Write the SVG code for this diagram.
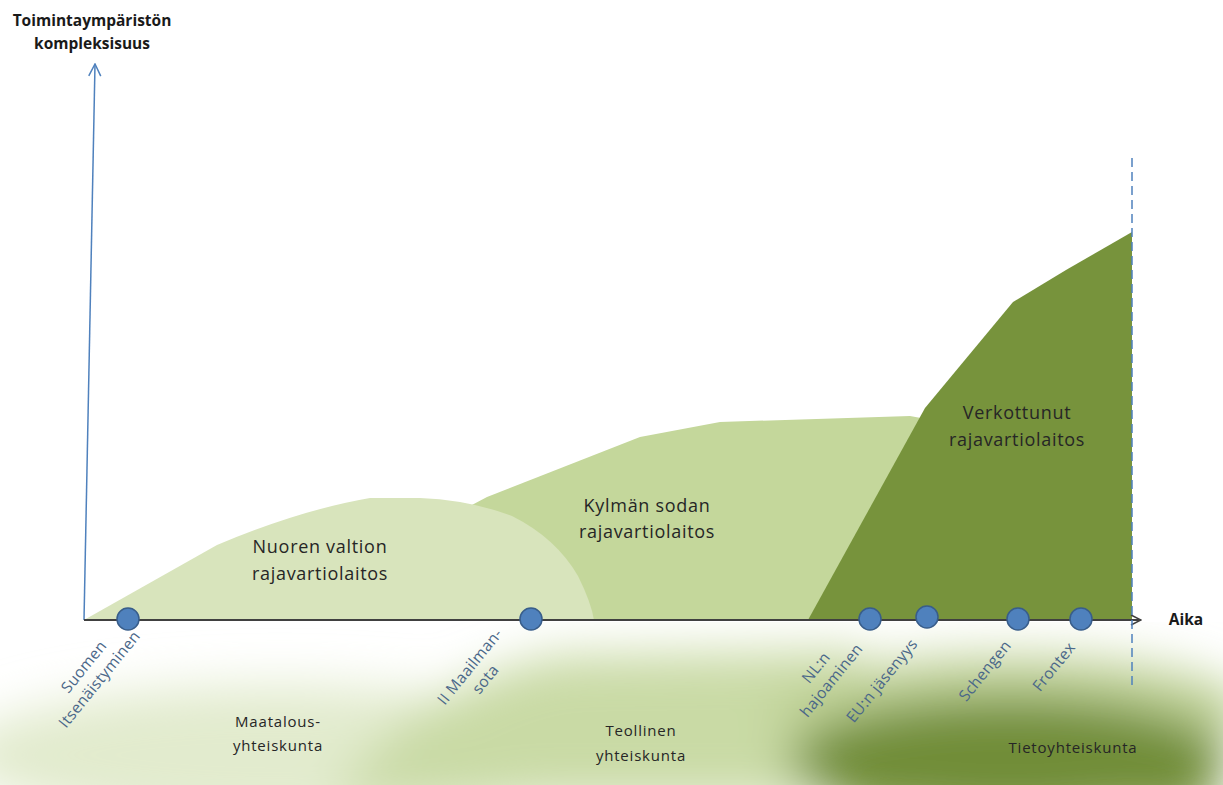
<svg xmlns="http://www.w3.org/2000/svg" width="1223" height="785" viewBox="0 0 1223 785">
  <style>
    .area-label { font-family: "Open Sans", "Liberation Sans", sans-serif; font-size: 18px; letter-spacing: 0.7px; fill: #262626; text-anchor: middle; }
    .era-label { font-family: "Open Sans", "Liberation Sans", sans-serif; font-size: 15px; letter-spacing: 0.8px; fill: #262626; text-anchor: middle; }
    .event-label { font-family: "Open Sans", "Liberation Sans", sans-serif; font-size: 15.5px; letter-spacing: 0.3px; fill: #4a6789; text-anchor: middle; }
    .axis-label { font-family: "Open Sans", "Liberation Sans", sans-serif; font-size: 15.5px; font-weight: bold; fill: #1a1a1a; text-anchor: middle; }
    .dot { fill: #4f81bd; stroke: #385d8a; stroke-width: 1.5; }
  </style>
  <defs>
    <filter id="blur" filterUnits="userSpaceOnUse" x="-200" y="400" width="1700" height="600">
      <feGaussianBlur stdDeviation="24"/>
    </filter>
    <clipPath id="below">
      <rect x="0" y="622" width="1223" height="163"/>
    </clipPath>
    <marker id="openArrowBlue" viewBox="0 0 14 14" refX="13" refY="7" markerWidth="14" markerHeight="14" markerUnits="userSpaceOnUse" orient="auto">
      <path d="M1,1 L13,7 L1,13" fill="none" stroke="#4f81bd" stroke-width="1.5"/>
    </marker>
    <marker id="openArrowDark" viewBox="0 0 12 12" refX="11" refY="6" markerWidth="12" markerHeight="12" markerUnits="userSpaceOnUse" orient="auto">
      <path d="M1,1 L11,6 L1,11" fill="none" stroke="#404040" stroke-width="1.5"/>
    </marker>
  </defs>

  <rect width="1223" height="785" fill="#ffffff"/>

  <!-- soft background band of societies -->
  <g id="background-band" clip-path="url(#below)">
    <g filter="url(#blur)">
      <ellipse cx="280" cy="755" rx="320" ry="70" fill="#e2ebce"/>
      <path d="M330,800 Q420,680 560,655 L860,650 L900,800 Z" fill="#c9daa5"/>
      <ellipse cx="1010" cy="710" rx="240" ry="55" fill="#c0d297"/>
      <ellipse cx="1010" cy="760" rx="220" ry="62" fill="#718d38"/>
      <rect x="850" y="735" width="360" height="80" fill="#718d38"/>
    </g>
  </g>

  <g id="area-kylma">
    <path d="M470,506 L487,497 L640,437 L720,422 L910,416 L932,420 L932,620 L470,620 Z" fill="#c4d79b"/>
  </g>
  <g id="area-nuoren">
    <path d="M84,620 L217,545 Q300,510 370,498 L420,498 Q470,500 512,516 Q556,538 578,576 Q591,602 594,620 Z" fill="#d8e4bc"/>
  </g>
  <g id="area-verkottunut">
    <path d="M808,620 L925,408 L1013,302 L1066,270 L1132,232 L1132,620 Z" fill="#77933c"/>
  </g>

  <g id="connectors">
    <line id="y-axis" x1="84" y1="620" x2="95" y2="64" stroke="#4f81bd" stroke-width="1.5" marker-end="url(#openArrowBlue)"/>
    <line id="x-axis" x1="84" y1="620" x2="1141" y2="620" stroke="#404040" stroke-width="2" marker-end="url(#openArrowDark)"/>
    <line id="now-line" x1="1132" y1="158" x2="1132" y2="690" stroke="#4f81bd" stroke-width="1.5" stroke-dasharray="9,5"/>
  </g>

  <g id="axis-labels">
    <text class="axis-label" x="92" y="26">Toimintaympäristön</text>
    <text class="axis-label" x="92" y="49">kompleksisuus</text>
    <text class="axis-label" x="1186" y="625">Aika</text>
  </g>

  <g id="label-nuoren">
    <text class="area-label" x="320" y="553">Nuoren valtion</text>
    <text class="area-label" x="320" y="580">rajavartiolaitos</text>
  </g>
  <g id="label-kylma">
    <text class="area-label" x="647" y="512">Kylmän sodan</text>
    <text class="area-label" x="647" y="538">rajavartiolaitos</text>
  </g>
  <g id="label-verkottunut">
    <text class="area-label" x="1017" y="419">Verkottunut</text>
    <text class="area-label" x="1017" y="446">rajavartiolaitos</text>
  </g>

  <g id="event-itsenaistyminen">
    <circle class="dot" cx="128" cy="619" r="11"/>
    <text class="event-label" transform="translate(88,670) rotate(-51)"><tspan x="0" y="0">Suomen</tspan><tspan x="0" y="20">Itsenäistyminen</tspan></text>
  </g>
  <g id="event-maailmansota">
    <circle class="dot" cx="531" cy="619" r="11"/>
    <text class="event-label" transform="translate(474,670) rotate(-51)"><tspan x="0" y="0">II Maailman-</tspan><tspan x="0" y="20">sota</tspan></text>
  </g>
  <g id="event-nl">
    <circle class="dot" cx="870" cy="619" r="11"/>
    <text class="event-label" transform="translate(820,671) rotate(-51)"><tspan x="0" y="0">NL:n</tspan><tspan x="0" y="20">hajoaminen</tspan></text>
  </g>
  <g id="event-eu">
    <circle class="dot" cx="927" cy="617" r="11"/>
    <text class="event-label" transform="translate(886,684) rotate(-51)">EU:n jäsenyys</text>
  </g>
  <g id="event-schengen">
    <circle class="dot" cx="1018" cy="619" r="11"/>
    <text class="event-label" transform="translate(989,674) rotate(-51)">Schengen</text>
  </g>
  <g id="event-frontex">
    <circle class="dot" cx="1081" cy="619" r="11"/>
    <text class="event-label" transform="translate(1058,670) rotate(-51)">Frontex</text>
  </g>

  <g id="label-maatalous">
    <text class="era-label" x="278" y="727">Maatalous-</text>
    <text class="era-label" x="278" y="751">yhteiskunta</text>
  </g>
  <g id="label-teollinen">
    <text class="era-label" x="641" y="736">Teollinen</text>
    <text class="era-label" x="641" y="761">yhteiskunta</text>
  </g>
  <g id="label-tieto">
    <text class="era-label" x="1073" y="753">Tietoyhteiskunta</text>
  </g>
</svg>
